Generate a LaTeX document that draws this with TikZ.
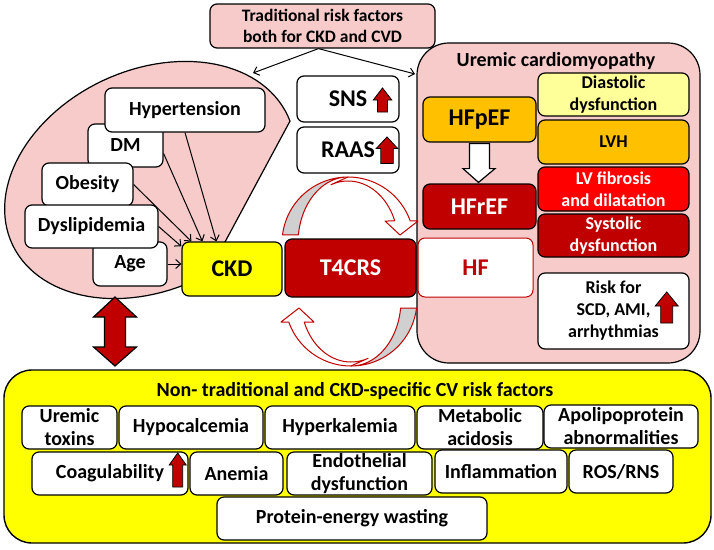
\documentclass[tikz,border=0pt]{standalone}
\usepackage{fontspec}
\setmainfont{Carlito}
\usetikzlibrary{calc,arrows.meta}
\definecolor{dred}{HTML}{C00000}
\definecolor{pinkf}{HTML}{F8CBCB}
\definecolor{yel}{HTML}{FFFF00}
\definecolor{orng}{HTML}{FFC000}
\definecolor{lyel}{HTML}{FFFF99}
\definecolor{rred}{HTML}{FF0000}
\definecolor{ribgrey}{HTML}{D0D0D0}
\newcommand\redup[6]{\filldraw[uparr] (#1,#2) -- ({#1+#3/2},{#2+#5}) -- ({#1+#6/2},{#2+#5}) -- ({#1+#6/2},{#2+#4}) -- ({#1-#6/2},{#2+#4}) -- ({#1-#6/2},{#2+#5}) -- ({#1-#3/2},{#2+#5}) -- cycle;}
\newcommand\ribbonarrow{%
 \filldraw[rib, fill=ribgrey] plot[domain=173:90, samples=40] ({348+66*cos(\x)},{243-66*sin(\x)}) -- plot[domain=90:173, samples=40] ({348+50*cos(\x)},{243-66*sin(\x)}) -- cycle;
 \filldraw[rib, fill=white] plot[domain=90:19.5, samples=40] ({348+66*cos(\x)},{243-66*sin(\x)}) -- (418,221) -- (400,235) -- (385,221) -- plot[domain=20.8:110, samples=40] ({348+50*cos(\x)},{243-62*sin(\x)}) -- cycle;
}
\begin{document}
\begin{tikzpicture}[x=1pt,y=-1pt,
 box/.style={draw, line width=1.2pt, rounded corners=7pt, fill=white, align=center, inner sep=0pt, text=black},
 fa/.style={font=\bfseries\fontsize{24}{28}\selectfont},
 fb/.style={font=\bfseries\fontsize{20}{23}\selectfont},
 fc/.style={font=\bfseries\fontsize{18}{22}\selectfont},
 fd/.style={font=\bfseries\fontsize{17.5}{21}\selectfont},
 uparr/.style={fill=dred, draw=black, line width=0.8pt, line join=miter},
 whitearr/.style={fill=white, draw=black, line width=1.2pt, line join=miter},
 rib/.style={draw=dred, line width=1pt, line join=round},
 conn/.style={-{Straight Barb[length=5pt,width=9pt]}, line width=1pt}]
\useasboundingbox (0,0) rectangle (714,549);
\fill[white] (0,0) rectangle (714,549);
% left pink shape
\filldraw[fill=pinkf, draw=black, line width=1.2pt] plot[domain=-3:265, samples=90] ({150+152*cos(\x)*0.9063-110*sin(\x)*0.4226},{180-152*cos(\x)*0.4226-110*sin(\x)*0.9063}) -- (225,242) -- cycle;
% risk factors
\node[box,fb,minimum width=75pt,minimum height=43pt] (dm) at (125.5,145.5) {DM};
\node[box,fb,minimum width=160pt,minimum height=44pt] (hyp) at (185,110) {Hypertension};
\node[box,fb,minimum width=74pt,minimum height=44pt] (age) at (130,264) {Age};
\node[box,fb,minimum width=91pt,minimum height=43pt] (obe) at (87.5,184.5) {Obesity};
\node[box,fb,minimum width=133pt,minimum height=43pt] (dys) at (91.5,226.5) {Dyslipidemia};
% central chain
\node[box,fa,fill=yel,minimum width=100pt,minimum height=54pt] (ckd) at (232,269) {CKD};
\node[box,fa,fill=dred,text=white,minimum width=131pt,minimum height=58pt] (t4) at (350.5,268) {T4CRS};
\draw[conn] (hyp.south) -- ([xshift=35pt]ckd.north west);
\draw[conn] ([yshift=-8pt]dm.east) -- ([xshift=21pt]ckd.north west);
\draw[conn] (obe.east) -- ([xshift=10pt]ckd.north west);
\draw[conn] (dys.east) -- ([yshift=-5pt]ckd.north west);
\draw[conn] (age.east) -- (age.east -| ckd.west);
% right panel
\node[draw,line width=1.2pt,fill=pinkf,rounded corners=32pt,minimum width=283pt,minimum height=320pt] (ucm) at (558.5,203) {};
\node[fb] (ucmt) at (556,61) {Uremic cardiomyopathy};
\node[box,fc,fill=lyel,minimum width=151pt,minimum height=43pt] (dia) at (613.5,94.5) {Diastolic\\dysfunction};
\node[box,fc,fill=orng,minimum width=151pt,minimum height=44pt] (lvh) at (613.5,142) {LVH};
\node[box,fc,fill=rred,text=white,minimum width=151pt,minimum height=44pt] (lvf) at (613.5,189) {LV fibrosis\\and dilatation};
\node[box,fc,fill=dred,text=white,minimum width=151pt,minimum height=43pt] (sys) at (613.5,235.5) {Systolic\\dysfunction};
\node[box,fc,minimum width=151pt,minimum height=76pt] (risk) at (613.5,311) {Risk for\\SCD, AMI,\\arrhythmias};
\redup{666.7}{292}{23}{31}{14}{12}
\node[box,fa,fill=orng,minimum width=113pt,minimum height=45pt] (hfp) at (479.5,119.5) {HFpEF};
\node[box,fa,fill=dred,text=white,minimum width=113pt,minimum height=45pt] (hfr) at (479.5,206.5) {HFrEF};
\node[box,fa,draw=dred,line width=1pt,text=dred,minimum width=115pt,minimum height=59pt] (hf) at (475.5,267.5) {HF};
\filldraw[whitearr] ($(hfp.south)+(-10,1)$) -- ($(hfp.south)+(10,1)$) -- ($(hfp.south)+(10,26)$) -- ($(hfp.south)+(15.5,26)$) -- ($(hfr.north)+(-1,-1)$) -- ($(hfp.south)+(-16.5,26)$) -- ($(hfp.south)+(-10,26)$) -- cycle;
% SNS / RAAS
\node[box,fa,minimum width=102pt,minimum height=46pt] (sns) at (348,99) {SNS};
\redup{382.5}{88}{18.5}{24}{12}{10}
\node[box,fa,minimum width=102pt,minimum height=46pt] (raas) at (348,150) {RAAS};
\redup{387}{137}{21.5}{26.5}{11.5}{12.5}
% circular arrows
\ribbonarrow
\begin{scope}[rotate around={180:(349.5,271.5)}]
\ribbonarrow
\end{scope}
% top box
\node[box,fd,fill=pinkf,minimum width=225pt,minimum height=44pt] (trf) at (322.5,26) {Traditional risk factors\\both for CKD and CVD};
\coordinate (tipL) at (253,73);
\coordinate (tipR) at (415,74);
\draw[conn] ([xshift=-4pt]trf.south) -- (tipL);
\draw[conn] ([xshift=-4pt]trf.south) -- (tipR);
% bottom panel
\node[draw,line width=1.4pt,fill=yel,rounded corners=28pt,minimum width=707pt,minimum height=173pt] (ntf) at (357.5,456.5) {};
\node[fb] (ntft) at (355,391) {Non- traditional and CKD-specific CV risk factors};
\node[box,fb,minimum width=95pt,minimum height=43pt] (ut) at (69.5,427.5) {Uremic\\toxins};
\node[box,fb,minimum width=144pt,minimum height=43pt] (hca) at (191,427.5) {Hypocalcemia};
\node[box,fb,minimum width=150pt,minimum height=43pt] (hka) at (340,427.5) {Hyperkalemia};
\node[box,fb,minimum width=126pt,minimum height=43pt] (mac) at (480,427.5) {Metabolic\\acidosis};
\node[box,fb,minimum width=154pt,minimum height=43pt] (apo) at (621,426.5) {Apolipoprotein\\abnormalities};
\node[box,fb,minimum width=156pt,minimum height=43pt] (coa) at (110,473.5) {Coagulability};
\redup{177.7}{453}{17}{34}{12}{10}
\node[box,fb,minimum width=93pt,minimum height=43pt] (ane) at (236.5,473.5) {Anemia};
\node[box,fb,minimum width=145pt,minimum height=43pt] (endo) at (359.5,473.5) {Endothelial\\dysfunction};
\node[box,fb,minimum width=132pt,minimum height=43pt] (infl) at (501,471.5) {Inflammation};
\node[box,fb,minimum width=104pt,minimum height=43pt] (ros) at (621,471.5) {ROS/RNS};
\node[box,fb,minimum width=270pt,minimum height=43pt] (pew) at (352,518.5) {Protein-energy wasting};
% double arrow
\filldraw[uparr,line width=1.2pt] (115,297) -- (136.5,317) -- (125.5,317) -- (125.5,347) -- (136.5,347) -- (115,366) -- (93.5,347) -- (104.5,347) -- (104.5,317) -- (93.5,317) -- cycle;
\end{tikzpicture}
\end{document}
